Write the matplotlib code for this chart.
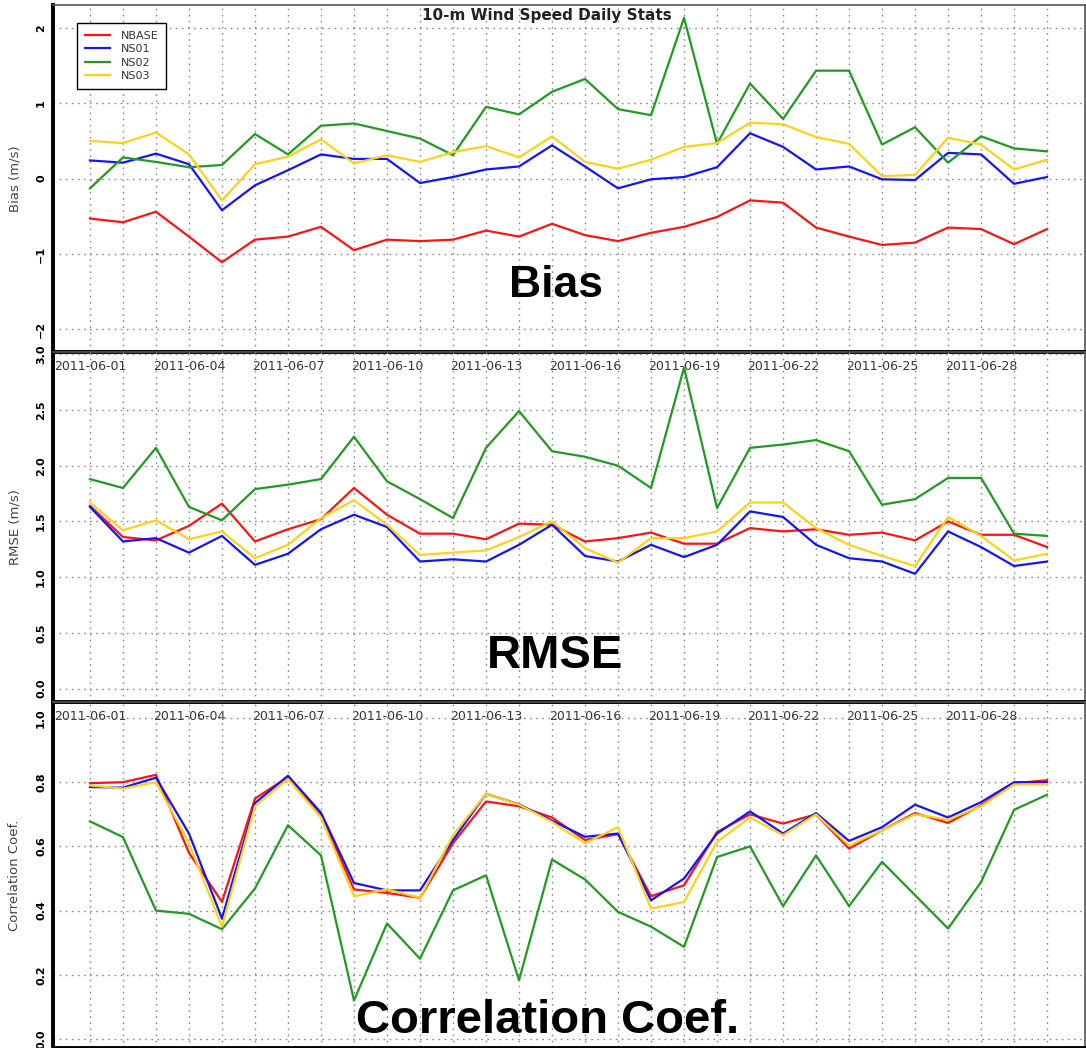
import matplotlib
matplotlib.use('Agg')
import matplotlib.pyplot as plt
import numpy as np
import pandas as pd

# daily stats, June 2011
dates = pd.date_range('2011-06-01', '2011-06-30', freq='D')
date_labels = [d.strftime('%Y-%m-%d') for d in dates]

bias_nbase = [-0.53, -0.58, -0.44, -0.77, -1.11, -0.81, -0.77, -0.64, -0.95, -0.81,
              -0.83, -0.81, -0.69, -0.77, -0.60, -0.75, -0.83, -0.72, -0.64, -0.51,
              -0.29, -0.32, -0.65, -0.77, -0.88, -0.85, -0.65, -0.67, -0.87, -0.67]
bias_ns01 = [0.24, 0.21, 0.33, 0.19, -0.42, -0.09, 0.11, 0.32, 0.26, 0.26,
             -0.06, 0.02, 0.12, 0.16, 0.44, 0.16, -0.13, -0.01, 0.02, 0.15,
             0.60, 0.42, 0.12, 0.16, -0.01, -0.02, 0.34, 0.32, -0.07, 0.02]
bias_ns02 = [-0.13, 0.28, 0.22, 0.15, 0.18, 0.59, 0.32, 0.70, 0.73, 0.63,
             0.53, 0.31, 0.95, 0.85, 1.15, 1.32, 0.92, 0.84, 2.13, 0.46,
             1.26, 0.79, 1.43, 1.43, 0.45, 0.68, 0.21, 0.56, 0.40, 0.36]
bias_ns03 = [0.50, 0.47, 0.61, 0.32, -0.29, 0.19, 0.29, 0.52, 0.20, 0.31,
             0.22, 0.35, 0.43, 0.28, 0.56, 0.22, 0.13, 0.25, 0.42, 0.47,
             0.74, 0.72, 0.55, 0.46, 0.03, 0.05, 0.54, 0.45, 0.12, 0.25]

rmse_nbase = [1.64, 1.36, 1.33, 1.46, 1.66, 1.32, 1.43, 1.52, 1.80, 1.56,
              1.39, 1.39, 1.34, 1.48, 1.47, 1.32, 1.35, 1.40, 1.30, 1.30,
              1.44, 1.41, 1.43, 1.38, 1.40, 1.33, 1.50, 1.38, 1.38, 1.27]
rmse_ns01 = [1.63, 1.32, 1.35, 1.22, 1.37, 1.11, 1.21, 1.43, 1.56, 1.45,
             1.14, 1.16, 1.14, 1.29, 1.47, 1.19, 1.14, 1.29, 1.18, 1.29,
             1.59, 1.54, 1.29, 1.17, 1.14, 1.03, 1.41, 1.27, 1.10, 1.14]
rmse_ns02 = [1.88, 1.80, 2.16, 1.63, 1.51, 1.79, 1.83, 1.88, 2.26, 1.86,
             1.70, 1.53, 2.16, 2.49, 2.13, 2.08, 2.00, 1.80, 2.88, 1.62,
             2.16, 2.19, 2.23, 2.13, 1.65, 1.70, 1.89, 1.89, 1.39, 1.37]
rmse_ns03 = [1.67, 1.42, 1.51, 1.34, 1.41, 1.17, 1.29, 1.53, 1.69, 1.47,
             1.20, 1.22, 1.24, 1.36, 1.50, 1.26, 1.13, 1.35, 1.35, 1.41,
             1.67, 1.67, 1.44, 1.29, 1.19, 1.10, 1.54, 1.37, 1.15, 1.21]

corr_nbase = [0.797, 0.800, 0.823, 0.580, 0.427, 0.749, 0.816, 0.700, 0.466, 0.455,
              0.440, 0.610, 0.740, 0.725, 0.690, 0.620, 0.638, 0.445, 0.479, 0.645,
              0.700, 0.671, 0.700, 0.593, 0.650, 0.704, 0.673, 0.728, 0.797, 0.806]
corr_ns01 = [0.785, 0.783, 0.814, 0.640, 0.375, 0.735, 0.820, 0.705, 0.486, 0.463,
             0.463, 0.620, 0.764, 0.731, 0.680, 0.630, 0.640, 0.432, 0.500, 0.640,
             0.709, 0.640, 0.704, 0.617, 0.660, 0.730, 0.690, 0.738, 0.800, 0.800]
corr_ns02 = [0.678, 0.629, 0.400, 0.390, 0.342, 0.469, 0.666, 0.572, 0.120, 0.360,
             0.250, 0.463, 0.510, 0.183, 0.559, 0.497, 0.396, 0.350, 0.287, 0.567,
             0.600, 0.414, 0.572, 0.414, 0.552, 0.448, 0.344, 0.489, 0.714, 0.761]
corr_ns03 = [0.790, 0.780, 0.800, 0.610, 0.350, 0.725, 0.810, 0.690, 0.445, 0.466,
             0.440, 0.635, 0.764, 0.730, 0.676, 0.610, 0.660, 0.406, 0.427, 0.614,
             0.690, 0.635, 0.700, 0.603, 0.650, 0.700, 0.683, 0.725, 0.793, 0.793]

runs = ['NBASE', 'NS01', 'NS02', 'NS03']
colors = ['#ff1414', '#1414ff', '#229a22', '#ffd21a']

panels = [
    ('Bias (m/s)', [bias_nbase, bias_ns01, bias_ns02, bias_ns03],
     (-2.3, 2.3), [-2, -1, 0, 1, 2], '%d', 'Bias', 32),
    ('RMSE (m/s)', [rmse_nbase, rmse_ns01, rmse_ns02, rmse_ns03],
     (-0.12, 3.02), np.arange(0, 3.01, 0.5), '%.1f', 'RMSE', 34),
    ('Correlation Coef.', [corr_nbase, corr_ns01, corr_ns02, corr_ns03],
     (-0.028, 1.05), np.arange(0, 1.01, 0.2), '%.1f', 'Correlation Coef.', 34),
]

# panel rects in figure fractions
rects = [
    [0.0488, 0.6641, 0.9503, 0.3311],
    [0.0488, 0.3302, 0.9503, 0.3339],
    [0.0488, 0.0, 0.9503, 0.3302],
]
# baselines of the big overlay labels
big_pos = [(0.512, 0.7166), (0.5115, 0.3626), (0.504, 0.0143)]

fig = plt.figure(figsize=(10.86, 10.48), dpi=100)
fig.patch.set_facecolor('white')

x = np.arange(len(dates))
axes = []
for i, (ylab, series, ylim, yticks, fmt, big, bigsize) in enumerate(panels):
    ax = fig.add_axes(rects[i])
    ax.patch.set_visible(False)
    for s, c, name in zip(series, colors, runs):
        ax.plot(x, s, color=c, lw=1.6, label=name)

    ax.set_xlim(-1.12, 30.15)
    ax.set_ylim(*ylim)
    ax.set_xticks(x)
    # the bottom panel's date labels fall below the figure edge in the original
    if i < 2:
        xlabs = [lab if k % 3 == 0 else '' for k, lab in enumerate(date_labels)]
    else:
        xlabs = [''] * len(date_labels)
    ax.set_xticklabels(xlabs, fontsize=9, color='#333333')
    ax.set_yticks(yticks)
    ax.set_yticklabels([(fmt % v).replace('-', '\u2212') for v in yticks],
                       rotation=90, va='center', fontsize=8, fontweight='bold')
    ax.tick_params(axis='x', length=0, pad=6)
    ax.tick_params(axis='y', length=0, pad=5)
    ax.grid(True, color='#8a8a8a', linestyle=(0, (1.2, 3.2)), lw=1.0)

    ax.set_ylabel(ylab, fontsize=9.5, color='#444444')
    ax.yaxis.set_label_coords(-0.031, 0.5)

    for side in ['left', 'bottom']:
        ax.spines[side].set_linewidth(2.8)
        ax.spines[side].set_color('black')
    for side in ['top', 'right']:
        ax.spines[side].set_linewidth(1.2)
        ax.spines[side].set_color('#555555')

    fig.text(big_pos[i][0], big_pos[i][1], big, ha='center', va='baseline',
             fontsize=bigsize, fontweight='bold', family='Liberation Sans')
    axes.append(ax)

leg = axes[0].legend(loc='upper left', bbox_to_anchor=(0.018, 0.965), fontsize=8,
                     handlelength=2.3, handletextpad=0.9, labelspacing=0.32,
                     borderpad=0.7, fancybox=False, framealpha=1, edgecolor='black')
leg.get_frame().set_linewidth(1.0)
for t in leg.get_texts():
    t.set_color('#333333')

fig.text(0.504, 0.981, '10-m Wind Speed Daily Stats', ha='center', va='baseline',
         fontsize=11, fontweight='bold', color='#222222')

fig.savefig('out.png', dpi=100, facecolor='white')
